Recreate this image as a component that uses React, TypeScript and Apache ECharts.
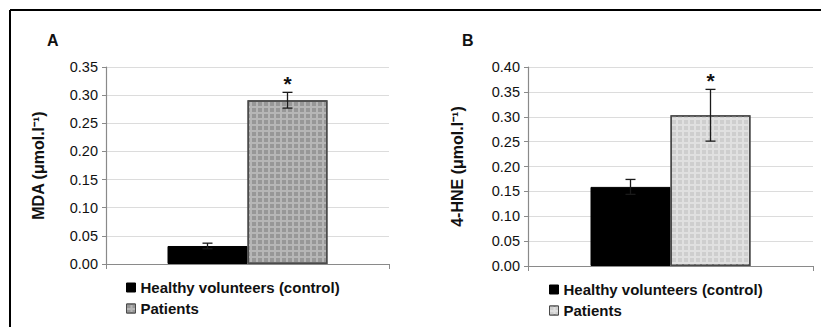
import React, { useEffect, useRef } from "react";
import * as echarts from "echarts";

const categories = [""];
const seriesNames = ["Healthy volunteers (control)", "Patients"];
const mdaMeans = [0.032, 0.291];
const mdaErrors = [0.005, 0.014];
const hneMeans = [0.159, 0.303];
const hneErrors = [0.015, 0.052];
const significant = [false, true];
const mdaAxis = { max: 0.35, interval: 0.05 };
const hneAxis = { max: 0.4, interval: 0.05 };
const panelLabels = ["A", "B"];
const axisNames = ["MDA (\u03bcmol.l\u207b\u00b9)", "4-HNE (\u03bcmol.l\u207b\u00b9)"];

const FONT = "'Liberation Sans', Arial, sans-serif";
const BAR_W = 80;
const CAP = 5;

const controlStyle = { color: "#000000", borderColor: "#000000", borderWidth: 1 };
const patientStyles = [
  {
    color: "#b6b6b6",
    borderColor: "#4a4a4a",
    borderWidth: 1.5,
    decal: { symbol: "rect", symbolSize: 1, color: "#979797", dashArrayX: [4, 2], dashArrayY: [4, 2], rotation: 0 },
  },
  {
    color: "#e0e0e0",
    borderColor: "#4a4a4a",
    borderWidth: 1.5,
    decal: { symbol: "rect", symbolSize: 1, color: "#cecece", dashArrayX: [4, 2], dashArrayY: [4, 2], rotation: 0 },
  },
];

function errorRender(params: any, api: any) {
  const cat = api.value(0);
  const mean = api.value(1);
  const err = api.value(2);
  const idx = api.value(3);
  const star = api.value(4);
  const c = api.coord([cat, mean]);
  const x = c[0] + (idx === 0 ? -1 : 1) * (BAR_W / 2);
  const top = api.coord([cat, mean + err])[1];
  const bot = api.coord([cat, mean - err])[1];
  const st = { stroke: "#1a1a1a", lineWidth: 1.3 };
  const children: any[] = [
    { type: "line", shape: { x1: x, y1: top, x2: x, y2: bot }, style: st },
    { type: "line", shape: { x1: x - CAP, y1: top, x2: x + CAP, y2: top }, style: st },
    { type: "line", shape: { x1: x - CAP, y1: bot, x2: x + CAP, y2: bot }, style: st },
  ];
  if (star) {
    children.push({
      type: "text",
      style: { text: "*", x: x, y: top + 2, textAlign: "center", textVerticalAlign: "bottom", fontSize: 21, fontWeight: "bold", fontFamily: FONT, fill: "#111" },
    });
  }
  return { type: "group", children };
}

export default function App() {
  const ref = useRef<HTMLDivElement>(null);
  useEffect(() => {
    if (!ref.current) return;
    const chart = echarts.init(ref.current, null, { renderer: "svg" });
    const grids = [
      { left: 106, top: 67, width: 283, height: 197 },
      { left: 528, top: 67, width: 285, height: 199 },
    ];
    const panels = [
      { means: mdaMeans, errs: mdaErrors, axis: mdaAxis, gap: 60 },
      { means: hneMeans, errs: hneErrors, axis: hneAxis, gap: 63 },
    ];
    const series: any[] = [];
    panels.forEach((p, g) => {
      series.push({
        type: "bar",
        name: seriesNames[0],
        xAxisIndex: g,
        yAxisIndex: g,
        data: [p.means[0]],
        barWidth: BAR_W,
        barGap: "0%",
        itemStyle: controlStyle,
      });
      series.push({
        type: "bar",
        name: seriesNames[1],
        xAxisIndex: g,
        yAxisIndex: g,
        data: [p.means[1]],
        barWidth: BAR_W,
        barGap: "0%",
        itemStyle: patientStyles[g],
      });
      series.push({
        type: "custom",
        xAxisIndex: g,
        yAxisIndex: g,
        renderItem: errorRender,
        encode: { x: 0, y: 1 },
        z: 10,
        data: p.means.map((m, i) => [0, m, p.errs[i], i, significant[i] ? 1 : 0]),
      });
    });
    const legends = [0, 1].map((g) => ({
      orient: "vertical",
      left: g === 0 ? 121 : 544,
      top: g === 0 ? 275 : 277,
      itemWidth: 9,
      itemHeight: 9,
      itemGap: 6,
      icon: "rect",
      selectedMode: false,
      textStyle: { fontFamily: FONT, fontSize: 15, fontWeight: "bold", color: "#111" },
      data: [
        { name: seriesNames[0], itemStyle: controlStyle },
        { name: seriesNames[1], itemStyle: { ...patientStyles[g], borderWidth: 1 } },
      ],
    }));
    chart.setOption({
      animation: false,
      backgroundColor: "#ffffff",
      title: panelLabels.map((t, g) => ({
        text: t,
        left: g === 0 ? 42 : 457,
        top: 27,
        textStyle: { fontFamily: FONT, fontSize: 16, fontWeight: "bold", color: "#111" },
      })),
      grid: grids,
      legend: legends,
      xAxis: [0, 1].map((g) => ({
        type: "category",
        gridIndex: g,
        data: categories,
        axisLine: { lineStyle: { color: "#8a8a8a", width: 1.2 } },
        axisTick: { show: true, length: 5, lineStyle: { color: "#8a8a8a" } },
        axisLabel: { show: false },
      })),
      yAxis: panels.map((p, g) => ({
        type: "value",
        gridIndex: g,
        min: 0,
        max: p.axis.max,
        interval: p.axis.interval,
        name: axisNames[g],
        nameLocation: "middle",
        nameRotate: 90,
        nameGap: p.gap,
        nameTextStyle: { fontFamily: FONT, fontSize: 16, fontWeight: "bold", color: "#111" },
        axisLine: { show: true, lineStyle: { color: "#8a8a8a", width: 1.2 } },
        axisTick: { show: true, length: 4, lineStyle: { color: "#8a8a8a" } },
        axisLabel: {
          fontFamily: FONT,
          fontSize: 14.5,
          color: "#111",
          margin: 8,
          formatter: (v: number) => v.toFixed(2),
        },
        splitLine: { lineStyle: { color: "#dcdcdc", width: 1 } },
      })),
      series,
      graphic: [
        { type: "line", shape: { x1: 10, y1: 10, x2: 821, y2: 10 }, style: { stroke: "#000", lineWidth: 2 } },
        { type: "line", shape: { x1: 10, y1: 10, x2: 10, y2: 327 }, style: { stroke: "#000", lineWidth: 2 } },
      ],
    });
    return () => chart.dispose();
  }, []);
  return (
    <div
      ref={ref}
      style={{ position: "fixed", left: 0, top: 0, width: 821, height: 327 }}
    />
  );
}
